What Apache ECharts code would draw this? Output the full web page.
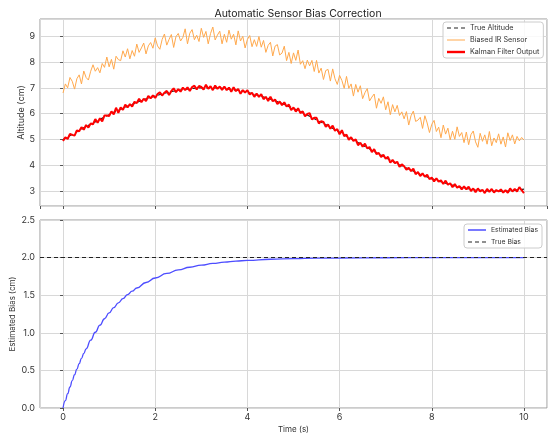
<!DOCTYPE html>
<html>
<head>
<meta charset="utf-8">
<script src="https://cdn.jsdelivr.net/npm/echarts@6/dist/echarts.min.js"></script>
<style>
  html, body { margin: 0; padding: 0; background: #fff; }
  #chart { width: 548px; height: 436px; }
</style>
</head>
<body>
<div id="chart"></div>
<script>
// sample spacing of the noisy signals (s)
const sampleStep = 0.05;

// true altitude, read every 0.25 s
const trueTime = [0, 0.25, 0.5, 0.75, 1, 1.25, 1.5, 1.75, 2, 2.25, 2.5, 2.75, 3, 3.25, 3.5, 3.75, 4, 4.25, 4.5, 4.75,
  5, 5.25, 5.5, 5.75, 6, 6.25, 6.5, 6.75, 7, 7.25, 7.5, 7.75, 8, 8.25, 8.5, 8.75, 9, 9.25, 9.5, 9.75, 10];
const trueAltitude = [5.00, 5.25, 5.50, 5.73, 5.96, 6.17, 6.36, 6.54, 6.68, 6.81, 6.90, 6.96, 7.00, 7.00, 6.97, 6.91,
  6.82, 6.70, 6.56, 6.39, 6.20, 5.99, 5.76, 5.53, 5.28, 5.03, 4.78, 4.54, 4.30, 4.07, 3.86, 3.66, 3.49, 3.34, 3.21,
  3.11, 3.05, 3.01, 3.00, 3.03, 3.08];

// biased IR sensor, every 0.05 s
const sensorAltitude = [
  6.80, 7.15, 7.00, 7.40, 7.25, 6.95, 7.35, 7.50, 7.15, 7.65,
  7.40, 7.30, 7.64, 7.89, 7.64, 7.78, 7.58, 7.94, 7.79, 8.19,
  7.81, 8.10, 7.72, 8.22, 8.09, 8.05, 8.43, 8.19, 8.51, 8.12,
  8.44, 8.22, 8.69, 8.37, 8.54, 8.73, 8.31, 8.62, 8.75, 8.53,
  8.93, 8.62, 8.49, 8.87, 9.08, 8.65, 8.87, 9.06, 8.56, 8.98,
  9.10, 8.81, 8.95, 9.28, 8.70, 9.11, 9.25, 8.86, 9.03, 8.79,
  9.30, 8.95, 9.18, 8.70, 9.10, 9.35, 8.85, 9.04, 9.19, 8.70,
  9.07, 8.76, 9.23, 8.88, 9.07, 8.66, 9.20, 8.81, 8.99, 8.54,
  8.87, 9.02, 8.59, 8.86, 8.60, 8.98, 8.57, 8.83, 8.37, 8.64,
  8.76, 8.23, 8.61, 8.67, 8.27, 8.34, 8.61, 8.05, 8.37, 7.94,
  8.35, 8.06, 8.46, 7.91, 8.05, 7.74, 8.07, 7.85, 8.06, 7.63,
  8.06, 7.57, 7.76, 7.32, 7.67, 7.71, 7.26, 7.73, 7.35, 7.13,
  7.48, 7.28, 6.98, 7.44, 6.98, 7.15, 6.68, 7.13, 6.83, 7.08,
  6.58, 6.81, 6.97, 6.49, 6.64, 6.76, 6.21, 6.59, 6.40, 6.65,
  6.15, 6.46, 5.96, 6.35, 6.07, 6.32, 5.93, 6.07, 5.80, 6.08,
  5.56, 5.92, 6.10, 5.70, 5.75, 5.86, 5.43, 5.92, 5.64, 5.27,
  5.59, 5.74, 5.31, 5.48, 5.07, 5.56, 5.21, 5.44, 4.99, 5.32,
  5.01, 5.49, 5.12, 5.27, 4.88, 5.29, 4.80, 5.19, 5.33, 4.91,
  4.70, 5.24, 4.93, 5.18, 4.82, 5.31, 4.76, 5.06, 4.88, 5.22,
  4.82, 5.10, 4.71, 5.26, 4.96, 5.18, 4.83, 5.12, 4.95, 5.08,
  4.98
];

// kalman filter output, every 0.05 s
const kalmanAltitude = [
  4.94, 5.09, 5.02, 5.22, 5.18, 5.15, 5.35, 5.32, 5.48, 5.38,
  5.56, 5.46, 5.62, 5.59, 5.79, 5.65, 5.82, 5.70, 5.93, 5.93,
  5.91, 6.09, 5.97, 6.23, 6.03, 6.24, 6.15, 6.35, 6.24, 6.37,
  6.27, 6.46, 6.41, 6.58, 6.44, 6.58, 6.49, 6.69, 6.59, 6.71,
  6.61, 6.76, 6.83, 6.70, 6.81, 6.88, 6.72, 6.88, 6.98, 6.83,
  6.95, 6.85, 7.01, 6.91, 7.02, 6.88, 7.03, 7.08, 6.94, 7.07,
  7.03, 6.93, 7.12, 6.96, 7.06, 6.91, 7.09, 6.96, 7.05, 6.92,
  7.05, 6.91, 7.01, 6.85, 7.02, 6.87, 6.96, 6.77, 6.91, 6.82,
  6.91, 6.74, 6.81, 6.65, 6.78, 6.65, 6.75, 6.56, 6.65, 6.49,
  6.66, 6.48, 6.55, 6.37, 6.47, 6.33, 6.44, 6.28, 6.35, 6.14,
  6.24, 6.08, 6.21, 6.02, 6.09, 5.90, 5.99, 6.02, 5.78, 5.84,
  5.84, 5.62, 5.71, 5.68, 5.49, 5.58, 5.42, 5.54, 5.34, 5.40,
  5.20, 5.36, 5.13, 5.19, 4.99, 5.09, 4.94, 5.01, 4.78, 4.88,
  4.72, 4.84, 4.66, 4.71, 4.51, 4.63, 4.44, 4.48, 4.32, 4.41,
  4.26, 4.33, 4.11, 4.21, 4.09, 4.14, 3.94, 4.04, 3.97, 3.83,
  3.91, 3.78, 3.87, 3.66, 3.74, 3.59, 3.69, 3.56, 3.64, 3.47,
  3.53, 3.38, 3.50, 3.37, 3.42, 3.28, 3.41, 3.25, 3.31, 3.16,
  3.28, 3.14, 3.20, 3.07, 3.19, 3.07, 3.18, 3.01, 3.11, 2.96,
  3.11, 2.99, 3.06, 2.93, 3.09, 2.98, 3.09, 2.95, 3.05, 2.99,
  3.07, 2.95, 3.04, 2.94, 3.11, 2.99, 3.09, 2.99, 3.16, 3.04,
  2.93
];

// estimated bias
const biasTime = [0, 0.05, 0.1, 0.15, 0.2, 0.25, 0.3, 0.35, 0.4, 0.45, 0.5, 0.6, 0.7, 0.8, 0.9, 1.0,
  1.1, 1.2, 1.3, 1.4, 1.5, 1.6, 1.8, 2.0, 2.25, 2.5, 2.75, 3.0, 3.25, 3.5, 3.75, 4.0, 4.5, 5.0, 5.5,
  6.0, 7.0, 8.0, 9.0, 10.0];
const biasEstimate = [0, 0.098, 0.19, 0.279, 0.363, 0.442, 0.518, 0.591, 0.659, 0.725, 0.787, 0.902, 1.007,
  1.101, 1.187, 1.264, 1.334, 1.398, 1.455, 1.507, 1.554, 1.596, 1.669, 1.729, 1.789, 1.836, 1.872, 1.900,
  1.922, 1.940, 1.953, 1.963, 1.978, 1.987, 1.992, 1.995, 1.998, 1.999, 2.0, 2.0];
const trueBias = 2.0;

const font = 'Inter';
const pairs = (xs, ys) => ys.map((v, i) => [xs[i], v]);
const sampled = ys => ys.map((v, i) => [+(i * sampleStep).toFixed(2), v]);

// legend line icons (18 x 8 box, the two moveTo points pin the box)
const iconSolid = h => 'path://M0,0M0,8M0,' + (4 - h / 2) + 'h18v' + h + 'h-18z';
const iconDashed = 'path://M0,0M0,8M0,3.4h4v1.2h-4zM7,3.4h4v1.2h-4zM14,3.4h4v1.2h-4z';

const chart = echarts.init(document.getElementById('chart'), null, { renderer: 'canvas' });

function xAxisCfg(grid, labels) {
  return {
    type: 'value', gridIndex: grid, min: -0.5, max: 10.5, splitNumber: 5,
    axisLine: { show: false },
    axisTick: { show: true, length: 3, lineStyle: { color: '#555' } },
    axisLabel: { show: labels, showMinLabel: false, showMaxLabel: false, fontSize: 9, color: '#333', fontFamily: font, margin: 5 },
    splitLine: { show: true, lineStyle: { color: '#d8d8d8', width: 1 } },
    name: labels ? 'Time (s)' : '', nameLocation: 'middle', nameGap: 18, nameMoveOverlap: false,
    nameTextStyle: { fontSize: 8, color: '#333', fontFamily: font }
  };
}

const legendBase = {
  orient: 'vertical', itemWidth: 18, itemHeight: 8, itemGap: 4,
  padding: [2, 4], borderColor: '#ccc', borderWidth: 1, borderRadius: 3,
  backgroundColor: 'rgba(255,255,255,0.85)',
  itemStyle: { borderWidth: 0 }
};

const option = {
  animation: false,
  backgroundColor: '#ffffff',
  title: {
    text: 'Automatic Sensor Bias Correction',
    left: 293, top: 3, textAlign: 'center',
    textStyle: { fontSize: 10.5, fontWeight: 'normal', color: '#222', fontFamily: font }
  },
  grid: [
    { left: 40, right: 1, top: 19, height: 187, show: true, borderColor: '#999', borderWidth: 1 },
    { left: 40, right: 1, top: 220, height: 188, show: true, borderColor: '#999', borderWidth: 1 }
  ],
  legend: [
    Object.assign({}, legendBase, {
      left: 443, top: 22,
      data: [
        { name: 'True Altitude', icon: iconDashed },
        { name: 'Biased IR Sensor', icon: iconSolid(1) },
        { name: 'Kalman Filter Output', icon: iconSolid(2.4) }
      ],
      textStyle: { fontSize: 7.2, color: '#333', fontFamily: font, lineHeight: 8 }
    }),
    Object.assign({}, legendBase, {
      left: 464, top: 224,
      data: [
        { name: 'Estimated Bias', icon: iconSolid(1.5) },
        { name: 'True Bias', icon: iconDashed }
      ],
      textStyle: { fontSize: 6.8, color: '#333', fontFamily: font, lineHeight: 8 }
    })
  ],
  xAxis: [xAxisCfg(0, false), xAxisCfg(1, true)],
  yAxis: [
    {
      type: 'value', gridIndex: 0, min: 2.43, max: 9.66, splitNumber: 7,
      axisLine: { show: false },
      axisTick: { show: true, length: 3, lineStyle: { color: '#555' } },
      axisLabel: { showMinLabel: false, showMaxLabel: false, fontSize: 9, color: '#333', fontFamily: font, margin: 5 },
      splitLine: { show: true, lineStyle: { color: '#d8d8d8', width: 1 } },
      name: 'Altitude (cm)', nameLocation: 'middle', nameRotate: 90, nameGap: 14, nameMoveOverlap: false,
      nameTextStyle: { fontSize: 9, color: '#333', fontFamily: font }
    },
    {
      type: 'value', gridIndex: 1, min: 0, max: 2.5, interval: 0.5,
      axisLine: { show: false },
      axisTick: { show: true, length: 3, lineStyle: { color: '#555' } },
      axisLabel: { fontSize: 9, color: '#333', fontFamily: font, margin: 5, formatter: v => v.toFixed(1) },
      splitLine: { show: true, lineStyle: { color: '#d8d8d8', width: 1 } },
      name: 'Estimated Bias (cm)', nameLocation: 'middle', nameRotate: 90, nameGap: 23, nameMoveOverlap: false,
      nameTextStyle: { fontSize: 8, color: '#333', fontFamily: font }
    }
  ],
  series: [
    {
      name: 'True Altitude', type: 'line', xAxisIndex: 0, yAxisIndex: 0,
      data: pairs(trueTime, trueAltitude), showSymbol: false, symbol: 'none', smooth: true,
      lineStyle: { color: '#222', width: 1.2, type: [4, 3] }, itemStyle: { color: '#222' }
    },
    {
      name: 'Biased IR Sensor', type: 'line', xAxisIndex: 0, yAxisIndex: 0,
      data: sampled(sensorAltitude), showSymbol: false, symbol: 'none',
      lineStyle: { color: '#ffa94d', width: 1 }, itemStyle: { color: '#ffa94d' }
    },
    {
      name: 'Kalman Filter Output', type: 'line', xAxisIndex: 0, yAxisIndex: 0,
      data: sampled(kalmanAltitude), showSymbol: false, symbol: 'none',
      lineStyle: { color: '#ff0000', width: 2 }, itemStyle: { color: '#ff0000' }
    },
    {
      name: 'Estimated Bias', type: 'line', xAxisIndex: 1, yAxisIndex: 1,
      data: pairs(biasTime, biasEstimate), showSymbol: false, symbol: 'none',
      smooth: true, smoothMonotone: 'x',
      lineStyle: { color: '#4d4dff', width: 1.3 }, itemStyle: { color: '#4d4dff' }
    },
    {
      name: 'True Bias', type: 'line', xAxisIndex: 1, yAxisIndex: 1, data: [],
      showSymbol: false, symbol: 'none',
      lineStyle: { color: '#222', width: 1.2, type: [4, 3] }, itemStyle: { color: '#222' },
      markLine: {
        silent: true, symbol: 'none', label: { show: false },
        lineStyle: { color: '#222', width: 1.2, type: [4, 3] },
        data: [{ yAxis: trueBias }]
      }
    }
  ]
};

chart.setOption(option);
</script>
</body>
</html>
